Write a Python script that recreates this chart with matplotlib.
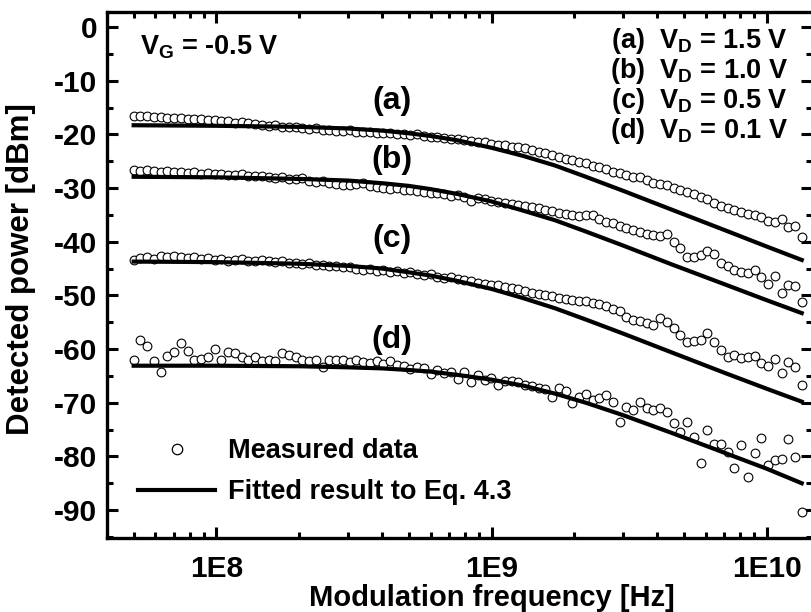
import numpy as np
import matplotlib
matplotlib.use('Agg')
import matplotlib.pyplot as plt
from matplotlib.ticker import FixedLocator, LogLocator, NullFormatter, MultipleLocator, FuncFormatter
from matplotlib.lines import Line2D

plt.rcParams['font.family'] = ['Liberation Sans', 'DejaVu Sans']
plt.rcParams['font.weight'] = 'bold'
plt.rcParams['axes.unicode_minus'] = False
plt.rcParams['mathtext.fontset'] = 'custom'
plt.rcParams['mathtext.rm'] = 'Liberation Sans:bold'
plt.rcParams['mathtext.it'] = 'Liberation Sans:bold'
plt.rcParams['mathtext.bf'] = 'Liberation Sans:bold'

# log sweep of the modulation frequency (100 points)
f_start, f_stop, n_pts = 5e7, 1.34e10, 100
freq = np.geomspace(f_start, f_stop, n_pts)

# measured detected power [dBm]
meas_a = [-16.5, -16.6, -16.6, -16.8, -16.7, -16.9, -17.0, -16.9, -17.1, -17.2,
          -17.2, -17.4, -17.3, -17.5, -17.6, -17.8, -17.7, -17.9, -18.1, -18.2,
          -18.4, -18.3, -18.6, -18.7, -18.6, -18.9, -19.0, -18.8, -19.1, -19.2,
          -19.3, -19.4, -19.2, -19.5, -19.6, -19.5, -19.7, -19.8, -19.7, -19.9,
          -20.0, -20.1, -20.0, -20.3, -20.4, -20.5, -20.6, -20.8, -20.9, -21.1,
          -21.2, -21.4, -21.5, -21.7, -21.9, -22.0, -22.3, -22.4, -22.6, -22.9,
          -23.2, -23.5, -23.8, -24.2, -24.6, -24.8, -25.1, -25.4, -25.8, -26.0,
          -26.5, -27.0, -27.2, -27.6, -27.9, -28.0, -28.5, -29.1, -29.3, -29.5,
          -29.9, -30.3, -30.8, -31.2, -31.6, -32.0, -32.7, -33.4, -33.7, -34.1,
          -34.4, -34.9, -35.0, -35.4, -36.1, -36.4, -35.8, -37.3, -37.1, -39.2]
meas_b = [-26.6, -26.8, -26.7, -26.9, -27.0, -26.8, -27.1, -27.0, -27.2, -27.1,
          -27.3, -27.2, -27.4, -27.3, -27.5, -27.6, -27.4, -27.7, -27.8, -27.7,
          -27.9, -28.1, -28.0, -28.3, -28.4, -28.2, -28.6, -28.8, -28.7, -29.0,
          -29.2, -29.4, -29.5, -29.3, -29.1, -29.6, -29.8, -29.9, -30.1, -30.0,
          -30.3, -30.4, -30.6, -30.7, -30.9, -31.0, -31.2, -31.4, -31.3, -31.6,
          -32.4, -31.9, -32.1, -32.4, -32.6, -32.8, -33.0, -33.2, -33.4, -33.6,
          -33.8, -34.0, -34.3, -34.6, -34.9, -35.1, -35.3, -35.1, -35.0, -35.8,
          -36.3, -36.6, -37.1, -37.5, -37.8, -38.2, -38.6, -38.8, -38.9, -38.6,
          -40.0, -41.2, -42.8, -42.9, -42.4, -41.8, -42.2, -44.0, -44.6, -45.3,
          -45.6, -45.9, -45.3, -46.5, -47.8, -46.4, -49.5, -48.1, -48.2, -51.2]
meas_c = [-43.4, -43.0, -42.8, -43.2, -42.7, -42.9, -42.6, -42.8, -43.1, -42.9,
          -43.2, -43.0, -43.4, -43.3, -43.5, -43.4, -43.3, -43.6, -43.5, -43.4,
          -43.5, -43.8, -43.6, -44.0, -43.9, -44.2, -44.0, -44.3, -44.4, -44.6,
          -44.5, -44.8, -44.7, -45.0, -45.2, -45.1, -45.4, -45.3, -45.6, -45.5,
          -45.8, -45.7, -46.0, -46.2, -46.1, -46.5, -46.7, -46.6, -47.0, -47.2,
          -47.4, -47.6, -47.8, -48.1, -48.0, -48.5, -48.7, -48.9, -49.2, -49.5,
          -49.7, -50.0, -50.2, -50.5, -50.7, -50.9, -51.1, -51.0, -51.4, -51.6,
          -51.9, -52.5, -53.0, -54.0, -54.6, -54.8, -55.2, -55.5, -54.2, -54.9,
          -56.1, -57.4, -58.6, -58.5, -58.3, -57.0, -58.6, -60.2, -61.4, -61.1,
          -61.7, -61.5, -61.3, -62.6, -63.2, -61.9, -64.5, -62.5, -63.3, -66.7]
meas_d = [-62.0, -58.3, -59.5, -62.3, -64.2, -61.2, -60.6, -58.9, -60.3, -62.0,
          -61.8, -61.4, -59.9, -62.0, -60.5, -60.8, -61.4, -62.0, -61.4, -62.3,
          -62.0, -62.3, -60.8, -61.1, -61.4, -62.0, -62.3, -62.0, -63.3, -62.0,
          -62.1, -62.0, -62.4, -62.1, -62.4, -62.6, -62.3, -62.8, -62.2, -62.9,
          -63.1, -63.7, -63.3, -63.6, -64.6, -63.9, -64.4, -64.2, -65.6, -64.3,
          -66.1, -64.8, -65.7, -65.4, -66.7, -66.0, -66.0, -66.1, -66.7, -66.8,
          -67.3, -67.4, -68.9, -67.3, -67.9, -70.1, -68.9, -68.3, -69.5, -69.2,
          -68.6, -69.8, -73.5, -70.7, -71.4, -69.8, -71.0, -71.4, -71.0, -71.7,
          -73.8, -75.4, -73.5, -76.3, -81.3, -75.1, -77.6, -77.6, -79.1, -82.2,
          -77.9, -83.8, -79.4, -76.6, -81.6, -80.7, -80.4, -76.8, -80.1, -90.3]

# fitted curves (Eq. 4.3)
freq_fit = [5e7, 1e8, 2e8, 3e8, 4e8, 5e8, 6e8, 7.5e8, 1e9, 1.3e9, 1.7e9,
            2.2e9, 3e9, 4.5e9, 7e9, 1e10, 1.34e10]
fit_a = [-18.3, -18.4, -18.6, -18.9, -19.3, -19.8, -20.3, -21.1, -22.5, -24.0, -25.8,
         -27.9, -30.5, -34.0, -37.8, -40.9, -43.4]
fit_b = [-27.9, -28.0, -28.3, -28.6, -29.1, -29.6, -30.2, -31.1, -32.5, -34.2, -36.0,
         -38.1, -40.7, -44.2, -47.9, -50.9, -53.3]
fit_c = [-43.7, -43.8, -44.1, -44.5, -45.0, -45.7, -46.3, -47.3, -48.8, -50.5, -52.4,
         -54.5, -57.1, -60.6, -64.4, -67.4, -69.8]
fit_d = [-63.1, -63.1, -63.2, -63.4, -63.6, -63.9, -64.2, -64.8, -65.7, -66.8, -68.3,
         -70.0, -72.3, -75.6, -79.3, -82.3, -85.0]

curve_tags = ['(a)', '(b)', '(c)', '(d)']
tag_y = [-13.8, -24.8, -39.5, -58.3]
vd_values = ['1.5', '1.0', '0.5', '0.1']

fig = plt.figure(figsize=(8.11, 6.12), dpi=100)
ax = fig.add_axes([107 / 811, 74 / 612, 705 / 811, 526 / 612])

for meas, fit in zip([meas_a, meas_b, meas_c, meas_d], [fit_a, fit_b, fit_c, fit_d]):
    ax.plot(freq, meas, 'o', ms=6.3, mfc='white', mec='black', mew=0.8, zorder=2)
    ax.plot(freq_fit, fit, '-', color='black', lw=3, zorder=3)

ax.set_xscale('log')
ax.set_xlim(4e7, 1.46e10)
ax.set_ylim(-95.2, 2.8)

ax.xaxis.set_major_locator(FixedLocator([1e8, 1e9, 1e10]))
ax.xaxis.set_major_formatter(FuncFormatter(lambda v, p: '1E%d' % round(np.log10(v))))
ax.xaxis.set_minor_locator(LogLocator(base=10, subs=np.arange(2, 10)))
ax.xaxis.set_minor_formatter(NullFormatter())
ax.yaxis.set_major_locator(MultipleLocator(10))
ax.yaxis.set_minor_locator(MultipleLocator(5))

ax.tick_params(which='both', direction='in', top=True, right=True, width=2.2, labelsize=21.5)
ax.tick_params(which='major', length=8)
ax.tick_params(which='minor', length=4)
ax.tick_params(axis='x', pad=12)
ax.tick_params(axis='y', pad=7)
for sp in ax.spines.values():
    sp.set_linewidth(2.4)

ax.set_xlabel('Modulation frequency [Hz]', fontsize=21, fontweight='bold')
ax.xaxis.set_label_coords((492 - 107) / 705, -0.088)
ax.set_ylabel('Detected power [dBm]', fontsize=22.5, fontweight='bold')
ax.yaxis.set_label_coords(-0.100, 0.512)

# curve tags
for tag, ty in zip(curve_tags, tag_y):
    ax.text(4.33e8, ty, tag, fontsize=23, fontweight='bold', ha='center', va='center')

ax.text(0.047, -5.2, r'$V_G$ = -0.5 V', transform=ax.get_yaxis_transform(), fontsize=19.5,
        fontweight='bold', ha='left', va='baseline')

# drain-voltage key, one block of four lines
vd_lines = [tag + r'  $V_D$ = ' + vd + ' V' for tag, vd in zip(curve_tags, vd_values)]
ax.text((788 - 107) / 705, 0.2, '\n'.join(vd_lines), transform=ax.get_yaxis_transform(),
        fontsize=19.5, fontweight='bold', ha='right', va='top', multialignment='right',
        linespacing=1.0)

handles = [Line2D([], [], marker='o', ls='none', ms=7.5, mfc='white', mec='black', mew=0.9),
           Line2D([], [], color='black', lw=3)]
ax.legend(handles, ['Measured data', 'Fitted result to Eq. 4.3'], loc='lower left',
          bbox_to_anchor=(31 / 705, 0.062), frameon=False, prop={'size': 19.5, 'weight': 'bold'},
          handlelength=2.85, handletextpad=0.48, borderpad=0, borderaxespad=0, labelspacing=0.55)

plt.savefig('out.png', dpi=100)
